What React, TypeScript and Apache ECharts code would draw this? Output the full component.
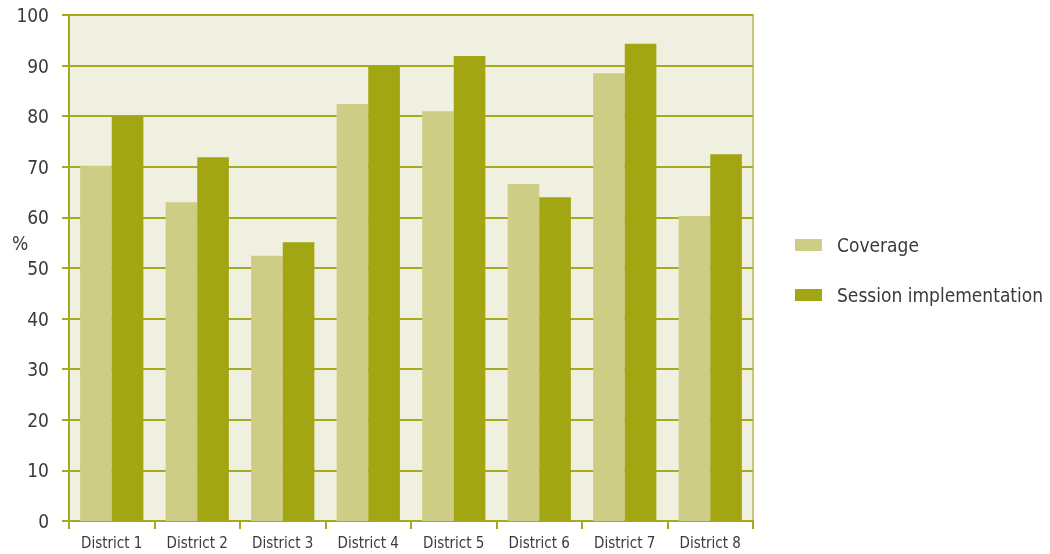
import React, { useEffect, useRef } from "react";
import * as echarts from "echarts";

const categories = ["District 1", "District 2", "District 3", "District 4", "District 5", "District 6", "District 7", "District 8"];
const coverage = [70.2, 63.0, 52.4, 82.4, 81.0, 66.6, 88.5, 60.3];
const sessionImplementation = [80.0, 71.9, 55.1, 89.9, 91.9, 64.0, 94.3, 72.5];
const seriesNames = ["Coverage", "Session implementation"];

const FONT = "'DejaVu Sans Condensed', 'Liberation Sans Narrow', sans-serif";
const OLIVE = "#A8AA1E";

export default function App() {
  const ref = useRef<HTMLDivElement>(null);
  useEffect(() => {
    if (!ref.current) return;
    const chart = echarts.init(ref.current, undefined, { renderer: "svg" });
    chart.setOption({
      animation: false,
      grid: {
        left: 69,
        right: 297,
        top: 15,
        bottom: 33,
        show: true,
        backgroundColor: "#F0F0E0",
        borderColor: "#C8C878",
        borderWidth: 2,
      },
      legend: {
        orient: "vertical",
        left: 790,
        top: 230,
        itemWidth: 27,
        itemHeight: 12,
        itemGap: 30,
        icon: "rect",
        textStyle: { fontFamily: FONT, fontSize: 19, color: "#3a3a3a", lineHeight: 20, padding: [0, 0, 0, 10] },
        data: seriesNames,
      },
      graphic: [
        {
          type: "text",
          left: 12,
          top: 233,
          style: { text: "%", fontFamily: FONT, fontSize: 19, fill: "#3a3a3a" },
        },
      ],
      xAxis: {
        type: "category",
        data: categories,
        axisLine: { lineStyle: { color: OLIVE, width: 2 } },
        axisTick: { show: true, length: 8, lineStyle: { color: OLIVE, width: 2 } },
        axisLabel: { fontFamily: FONT, fontSize: 15, color: "#3a3a3a", margin: 14 },
      },
      yAxis: {
        type: "value",
        min: 0,
        max: 100,
        interval: 10,
        axisLine: { show: true, lineStyle: { color: OLIVE, width: 2 } },
        axisTick: { show: true, length: 7, lineStyle: { color: OLIVE, width: 2 } },
        axisLabel: { fontFamily: FONT, fontSize: 19, color: "#3a3a3a", margin: 20 },
        splitLine: { show: true, lineStyle: { color: OLIVE, width: 2 } },
      },
      series: [
        {
          name: seriesNames[0],
          type: "bar",
          data: coverage,
          barGap: "0%",
          barCategoryGap: "26%",
          itemStyle: { color: "#CDCD86" },
        },
        {
          name: seriesNames[1],
          type: "bar",
          data: sessionImplementation,
          barGap: "0%",
          barCategoryGap: "26%",
          itemStyle: { color: "#A2A612" },
        },
      ],
    });
    return () => chart.dispose();
  }, []);
  return <div ref={ref} style={{ position: "fixed", left: 0, top: 0, width: 1050, height: 554 }} />;
}
